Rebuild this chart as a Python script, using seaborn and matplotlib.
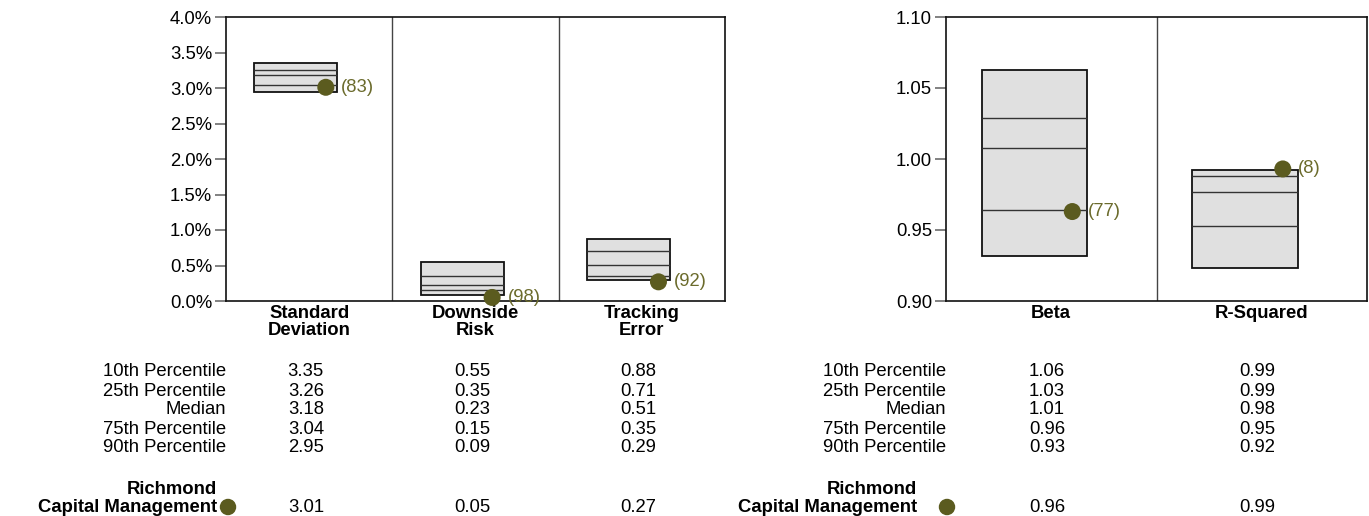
import numpy as np
import pandas as pd
import seaborn as sns
import matplotlib.pyplot as plt
from matplotlib.transforms import blended_transform_factory

# percentile data (10th, 25th, median, 75th, 90th) and manager value/rank
left_metrics = ["Standard\nDeviation", "Downside\nRisk", "Tracking\nError"]
left_p10 = [3.35, 0.55, 0.88]
left_p25 = [3.26, 0.35, 0.71]
left_med = [3.18, 0.23, 0.51]
left_p75 = [3.04, 0.15, 0.35]
left_p90 = [2.95, 0.09, 0.29]
left_mgr = [3.01, 0.05, 0.27]
left_rank = [83, 98, 92]

right_metrics = ["Beta", "R-Squared"]
right_p10 = [1.063, 0.992]
right_p25 = [1.029, 0.988]
right_med = [1.008, 0.977]
right_p75 = [0.964, 0.953]
right_p90 = [0.932, 0.923]
right_mgr = [0.963, 0.993]
right_rank = [77, 8]

left_table = [[3.35, 0.55, 0.88], [3.26, 0.35, 0.71], [3.18, 0.23, 0.51],
              [3.04, 0.15, 0.35], [2.95, 0.09, 0.29]]
left_table_mgr = [3.01, 0.05, 0.27]
right_table = [[1.06, 0.99], [1.03, 0.99], [1.01, 0.98], [0.96, 0.95], [0.93, 0.92]]
right_table_mgr = [0.96, 0.99]
row_names = ["10th Percentile", "25th Percentile", "Median", "75th Percentile", "90th Percentile"]
manager = "Richmond\nCapital Management"

OLIVE = "#5b5b1f"
LABEL_OLIVE = "#6b6b2c"
FS = 13.3
W, H = 1369, 516

sns.set_style("white")
plt.rcParams["font.family"] = ["Liberation Sans", "DejaVu Sans"]
plt.rcParams["text.color"] = "black"

fig = plt.figure(figsize=(W / 100, H / 100), dpi=100)
ax1 = fig.add_axes([226 / W, 215 / H, 499 / W, 284 / H])
ax2 = fig.add_axes([946 / W, 215 / H, 421 / W, 284 / H])


def draw_panel(ax, metrics, p10, p25, med, p75, p90, mgr, rank, ylim, fmt):
    x = np.arange(len(metrics))
    ax.bar(x - 0.08, np.array(p10) - np.array(p90), bottom=p90, width=0.5,
           color="#e0e0e0", edgecolor="#111111", linewidth=1.3, zorder=2)
    for vals in (p25, med, p75):
        ax.hlines(vals, x - 0.33, x + 0.17, color="#333333", linewidth=1.0, zorder=3)
    df = pd.DataFrame({"x": x + 0.1, "y": mgr})
    sns.scatterplot(data=df, x="x", y="y", ax=ax, s=150, color=OLIVE,
                    edgecolor="none", zorder=5, clip_on=False, legend=False)
    for xi, yi, r in zip(x, mgr, rank):
        ax.annotate(f"({r})", (xi + 0.1, yi), xytext=(11, 0), textcoords="offset points",
                    va="center", ha="left", color=LABEL_OLIVE, fontsize=FS,
                    annotation_clip=False, zorder=6)
    for d in x[:-1] + 0.5:
        ax.axvline(d, color="#444444", linewidth=1.0, zorder=1)
    ax.set_xlim(-0.5, len(metrics) - 0.5)
    ax.set_ylim(*ylim)
    ax.set_xticks(x)
    ax.set_xticklabels(metrics, fontweight="bold", fontsize=FS, linespacing=1.0)
    ax.yaxis.set_major_formatter(plt.FuncFormatter(lambda v, p: fmt.format(v)))
    ax.tick_params(axis="x", length=0, pad=3, labelcolor="black")
    ax.tick_params(axis="y", length=8, width=1.3, color="#777777", labelsize=FS,
                   labelcolor="black", direction="out", left=True, pad=2)
    ax.set_xlabel("")
    ax.set_ylabel("")
    for s in ax.spines.values():
        s.set_color("#111111")
        s.set_linewidth(1.2)
    ax.grid(False)


draw_panel(ax1, left_metrics, left_p10, left_p25, left_med, left_p75, left_p90,
           left_mgr, left_rank, (0, 4.0), "{:.1f}%")
ax1.set_yticks(np.arange(0, 4.01, 0.5))
draw_panel(ax2, right_metrics, right_p10, right_p25, right_med, right_p75, right_p90,
           right_mgr, right_rank, (0.9, 1.1), "{:.2f}")
ax2.set_yticks(np.arange(0.9, 1.101, 0.05))

row_y = [372, 391, 410, 429, 448]
mgr_y = 507


def draw_table(ax, table, table_mgr, name_right, dot_x):
    tr = blended_transform_factory(ax.transData, fig.transFigure)
    ncol = len(table[0])
    for name, vals, yp in zip(row_names, table, row_y):
        ax.text(-0.5, 1 - yp / H, name, transform=tr, ha="right", va="center", fontsize=FS)
        for j in range(ncol):
            ax.text(j - 0.02, 1 - yp / H, f"{vals[j]:.2f}", transform=tr,
                    ha="center", va="center", fontsize=FS)
    for j in range(ncol):
        ax.text(j - 0.02, 1 - mgr_y / H, f"{table_mgr[j]:.2f}", transform=tr,
                ha="center", va="center", fontsize=FS)
    fig.text(name_right / W, 1 - (mgr_y + 9) / H, manager, ha="right", va="bottom",
             multialignment="right", fontsize=FS, fontweight="bold", linespacing=1.1)
    ax.scatter([dot_x], [1 - mgr_y / H], transform=fig.transFigure, s=140, color=OLIVE,
               edgecolor="none", clip_on=False)


draw_table(ax1, left_table, left_table_mgr, 217, 228 / W)
draw_table(ax2, right_table, right_table_mgr, 917, 947 / W)

plt.savefig("out.png", dpi=100)
